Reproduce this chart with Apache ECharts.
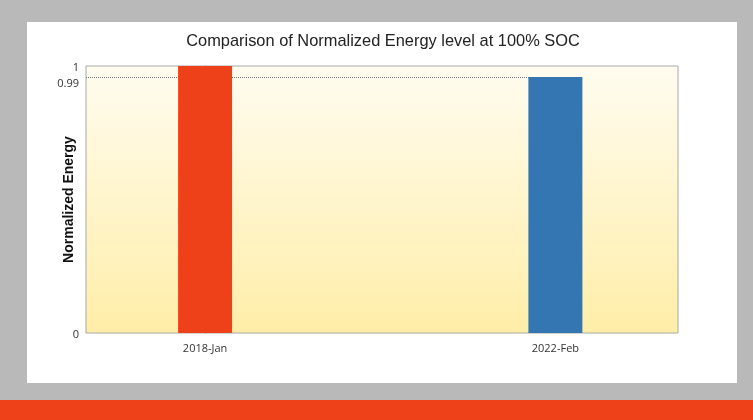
<!DOCTYPE html>
<html><head><meta charset="utf-8">
<script src="https://cdn.jsdelivr.net/npm/echarts@6/dist/echarts.min.js"></script>
<style>html,body{margin:0;padding:0;background:#b9b9b9;}#c{width:753px;height:420px;}</style>
</head><body><div id="c"></div>
<script>
const categories = ['2018-Jan', '2022-Feb'];
const energy = [1.0, 0.99];
const barColors = ['#ef4119', '#3376b1'];
const yAxisBottom = 0.757;   // axis base (labelled "0" in the reference)
const yTickValues = [yAxisBottom, 0.99, 1];
const yTickLabels = ['0', '0.99', '1'];
const refLevel = 0.99;

const chart = echarts.init(document.getElementById('c'));
chart.setOption({
  backgroundColor: '#b9b9b9',
  animation: false,
  graphic: [
    {type: 'rect', shape: {x: 27, y: 22, width: 710, height: 361}, style: {fill: '#ffffff'}, z: -10},
    {type: 'rect', shape: {x: 0, y: 400, width: 753, height: 20}, style: {fill: '#ef4119'}, z: -10}
  ],
  title: {
    text: 'Comparison of Normalized Energy level at 100% SOC',
    left: 378, top: 28, textAlign: 'center',
    textStyle: {fontFamily: 'Liberation Sans', fontSize: 16.4, fontWeight: 'normal', color: '#222'}
  },
  grid: {
    left: 86, right: 75, top: 66, bottom: 87, containLabel: false,
    show: true, borderColor: '#a8a8a8', borderWidth: 1,
    backgroundColor: new echarts.graphic.LinearGradient(0, 0, 0, 1, [
      {offset: 0, color: '#fffcf0'}, {offset: 1, color: '#ffeea8'}
    ])
  },
  xAxis: {
    type: 'value', min: -0.34, max: 1.35,
    axisLine: {show: false}, axisTick: {show: false}, splitLine: {show: false},
    axisLabel: {customValues: [0, 1], fontFamily: 'Open Sans', fontSize: 11, color: '#333', margin: 10,
      formatter: v => categories[Math.round(v)] || ''}
  },
  yAxis: {
    type: 'value', min: yAxisBottom, max: 1,
    name: 'Normalized Energy', nameLocation: 'middle', nameGap: 10, nameMoveOverlap: false,
    nameTextStyle: {fontFamily: 'Liberation Sans', fontSize: 14, fontWeight: 'bold', color: '#111'},
    axisLine: {show: true, lineStyle: {color: '#999', width: 1}},
    axisTick: {show: false}, splitLine: {show: false},
    axisLabel: {
      customValues: yTickValues, fontFamily: 'Open Sans', fontSize: 11, color: '#333', margin: 7,
      showMaxLabel: true, showMinLabel: true, hideOverlap: false,
      formatter: v => {
        const i = yTickValues.indexOf(v);
        const t = i >= 0 ? yTickLabels[i] : '';
        return t === '0.99' ? '{d|' + t + '}' : '{n|' + t + '}';
      },
      rich: {
        d: {fontFamily: 'Open Sans', fontSize: 11, color: '#333', padding: [14, 0, 0, 0]},
        n: {fontFamily: 'Open Sans', fontSize: 11, color: '#333', padding: [3, 0, 0, 0]}
      }
    }
  },
  series: [{
    type: 'bar', barWidth: 54, z: 2,
    data: energy.map((v, i) => ({value: [i, v], itemStyle: {color: barColors[i]}})),
    markLine: {
      silent: true, symbol: 'none', z: 1, label: {show: false},
      lineStyle: {type: [1, 1], color: '#777', width: 1},
      data: [[{xAxis: -0.34, yAxis: refLevel}, {xAxis: 1, yAxis: refLevel}]]
    }
  }]
});
</script></body></html>
